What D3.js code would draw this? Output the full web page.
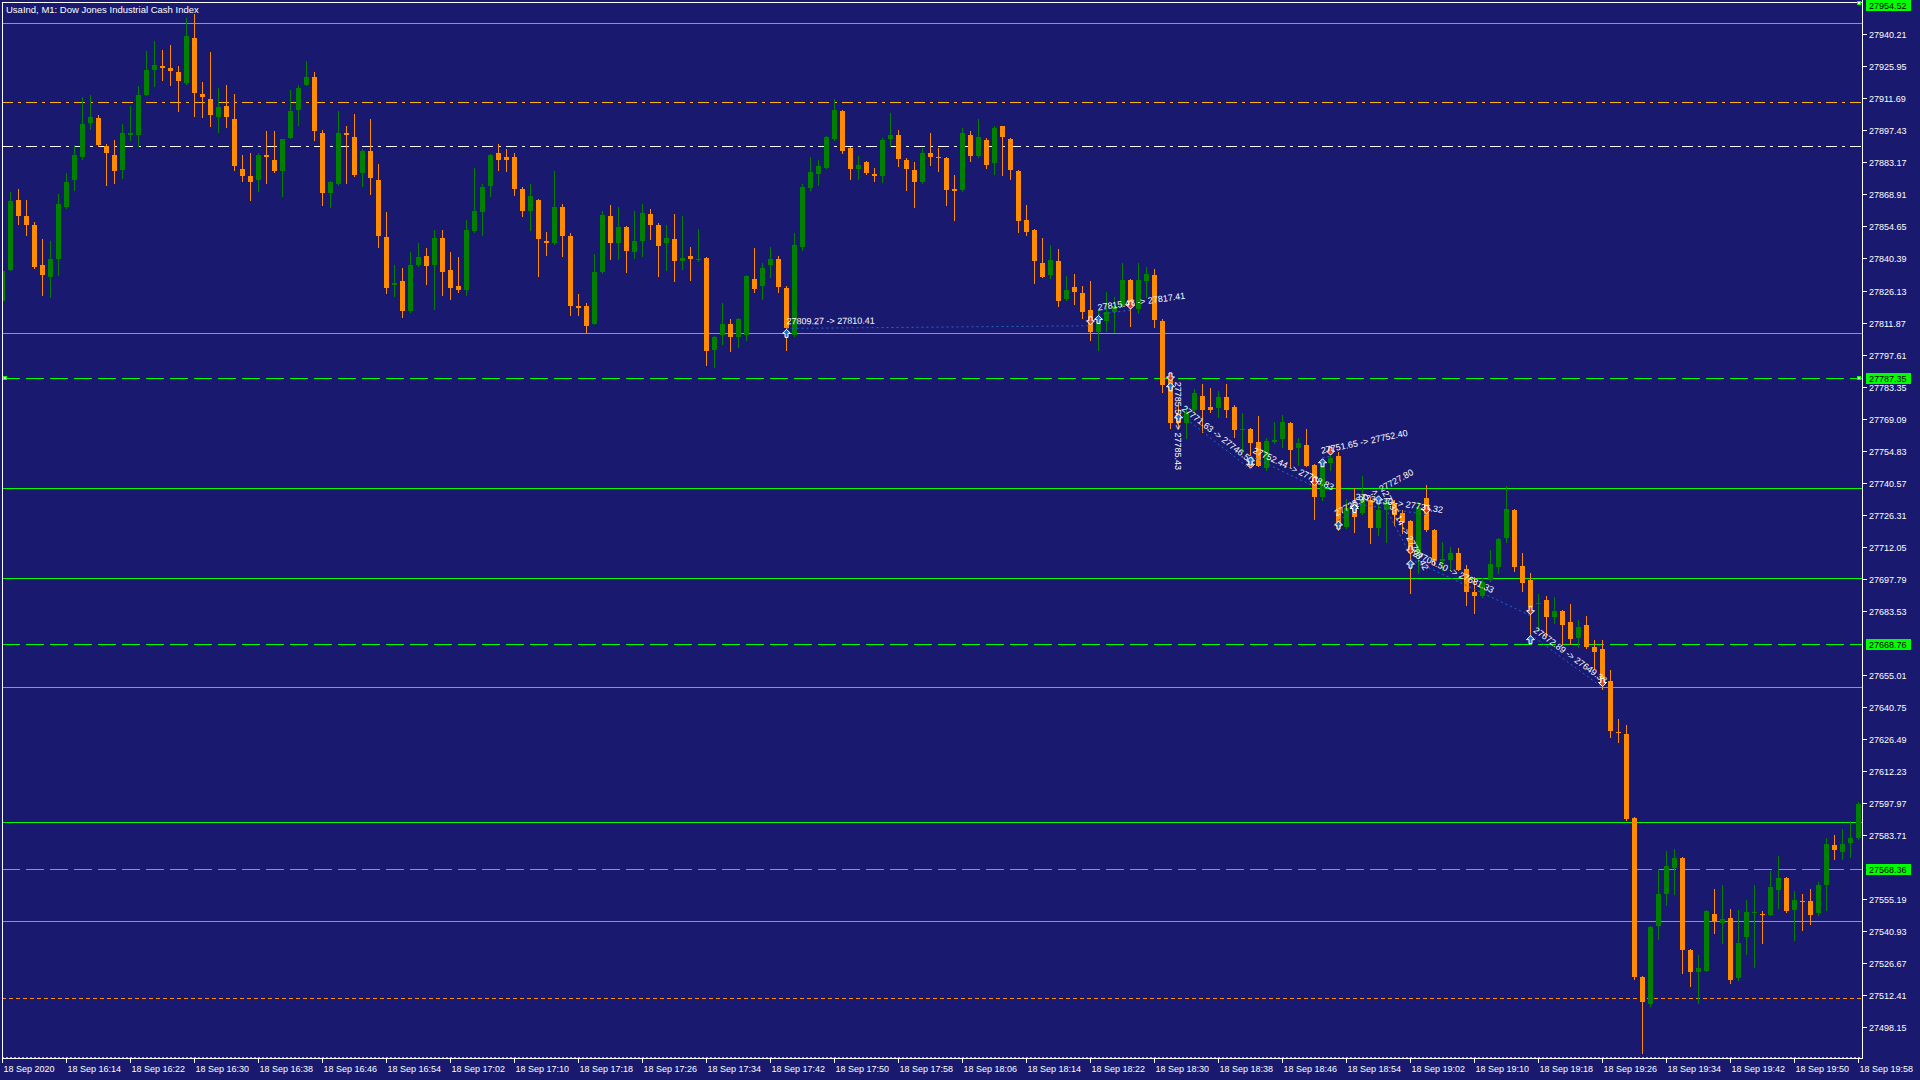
<!DOCTYPE html>
<html><head><meta charset="utf-8">
<script src="https://cdn.jsdelivr.net/npm/d3@7"></script>
<style>
html,body{margin:0;padding:0;background:#191970;overflow:hidden}
svg{display:block}
text{font-family:"Liberation Sans",Arial,sans-serif;}
</style></head><body>
<svg id="c" width="1920" height="1080"></svg>
<script>
const chartTitle = "UsaInd, M1:  Dow Jones Industrial Cash Index";

const open = [27821.3,27835.1,27866.6,27859.4,27855.4,27837.6,27832.0,27840.0,27863.1,27875.2,27885.4,27900.8,27903.1,27890.4,27886.6,27879.9,27895.2,27895.2,27913.3,27924.1,27926.2,27925.3,27923.5,27918.4,27938.7,27913.6,27911.5,27903.2,27908.4,27902.6,27880.4,27877.2,27875.2,27886.3,27884.4,27879.2,27894.0,27906.3,27917.8,27921.3,27896.4,27869.4,27873.7,27896.4,27894.6,27878.3,27888.4,27875.3,27850.1,27828.4,27830.5,27816.8,27837.3,27841.6,27837.3,27849.6,27835.4,27828.3,27826.2,27852.5,27860.9,27872.5,27887.5,27885.7,27885.7,27871.5,27861.4,27866.6,27848.3,27847.1,27863.3,27850.5,27819.4,27819.4,27811.2,27834.2,27859.3,27847.1,27854.4,27843.1,27848.0,27860.3,27855.4,27847.1,27849.2,27839.1,27841.6,27840.0,27840.7,27799.5,27806.1,27811.3,27805.3,27806.1,27831.2,27828.0,27837.3,27840.1,27827.4,27806.1,27845.3,27871.7,27878.1,27880.9,27893.7,27906.2,27889.7,27880.2,27883.5,27878.1,27877.0,27893.7,27895.5,27884.4,27879.9,27874.3,27887.5,27885.7,27885.3,27871.5,27871.0,27895.5,27885.8,27893.3,27883.0,27899.4,27893.7,27879.5,27857.6,27853.2,27838.4,27833.2,27839.4,27822.3,27827.5,27824.9,27817.6,27807.5,27812.4,27816.4,27819.1,27830.6,27818.0,27830.2,27832.9,27812.6,27787.8,27771.5,27767.0,27772.9,27779.2,27774.4,27774.0,27778.6,27774.1,27764.2,27764.5,27758.5,27747.3,27758.8,27760.0,27767.0,27756.2,27757.4,27748.4,27734.4,27749.5,27752.5,27721.0,27730.6,27726.9,27732.9,27720.3,27728.4,27731.4,27726.9,27723.5,27709.1,27733.6,27719.5,27705.7,27706.2,27709.1,27702.0,27692.1,27690.3,27697.2,27702.9,27716.1,27728.3,27703.4,27697.2,27686.4,27688.3,27680.7,27683.4,27678.4,27671.4,27677.2,27667.5,27666.5,27652.2,27629.5,27628.7,27591.4,27520.6,27508.4,27543.0,27557.3,27569.2,27573.6,27532.7,27522.9,27523.3,27548.5,27544.4,27546.8,27519.9,27538.4,27549.1,27548.5,27548.2,27559.4,27564.6,27550.5,27554.3,27554.3,27549.1,27561.2,27579.3,27576.3,27580.3,27582.4];
const high = [27835.0,27869.8,27871.4,27866.6,27856.5,27849.2,27848.3,27869.2,27878.6,27890.8,27912.3,27913.2,27904.2,27891.3,27893.3,27900.2,27908.4,27917.3,27932.6,27937.3,27933.3,27935.6,27926.2,27947.6,27949.4,27919.1,27932.4,27916.4,27917.8,27913.7,27886.6,27887.3,27887.3,27897.3,27897.3,27893.8,27915.5,27917.8,27928.4,27923.5,27897.4,27875.0,27906.2,27899.5,27904.7,27889.0,27902.6,27882.6,27860.9,27837.3,27836.1,27843.4,27847.4,27845.0,27853.2,27853.2,27843.4,27840.9,27857.6,27880.8,27873.7,27887.0,27891.3,27889.0,27887.5,27872.0,27873.7,27867.0,27852.3,27879.5,27864.5,27851.7,27824.7,27820.5,27842.5,27861.7,27864.3,27863.3,27855.0,27861.7,27864.8,27862.5,27856.0,27855.4,27860.3,27859.4,27845.6,27853.6,27841.0,27806.0,27820.7,27813.6,27814.0,27833.0,27845.2,27838.4,27845.6,27841.6,27828.3,27851.7,27873.7,27885.6,27884.4,27895.0,27911.4,27906.5,27890.0,27886.1,27884.0,27880.9,27894.0,27905.1,27897.7,27885.3,27883.3,27889.7,27896.2,27889.7,27885.5,27877.7,27898.5,27897.0,27902.6,27894.0,27899.5,27899.5,27894.0,27880.0,27864.3,27853.5,27849.5,27846.5,27844.7,27832.4,27833.6,27828.0,27830.5,27817.6,27825.4,27823.2,27838.4,27831.4,27838.4,27836.4,27835.8,27813.3,27788.5,27775.2,27775.2,27782.1,27784.4,27782.6,27781.4,27784.4,27775.2,27771.5,27765.0,27770.4,27760.5,27767.7,27770.7,27767.5,27760.3,27764.3,27749.0,27750.7,27753.7,27754.4,27733.2,27738.1,27743.5,27734.4,27734.4,27733.6,27732.9,27728.4,27724.0,27732.1,27739.6,27720.0,27714.3,27712.1,27711.3,27703.9,27698.7,27698.3,27710.6,27716.1,27739.0,27729.0,27709.2,27700.2,27691.1,27690.3,27689.5,27684.0,27686.5,27679.4,27681.1,27670.5,27670.5,27657.2,27635.4,27632.7,27591.5,27521.0,27543.0,27568.4,27576.7,27577.6,27574.0,27533.0,27530.3,27550.3,27559.7,27561.5,27550.8,27550.3,27554.8,27561.5,27549.9,27567.7,27574.4,27565.0,27558.8,27557.4,27559.7,27562.8,27582.4,27583.7,27586.4,27589.8,27598.3];
const low = [27820.0,27835.1,27855.9,27851.0,27836.1,27824.0,27823.1,27833.2,27863.0,27871.0,27884.8,27897.9,27890.5,27872.9,27873.8,27876.2,27893.3,27890.3,27913.0,27917.0,27920.0,27917.8,27905.9,27918.0,27904.0,27903.2,27899.2,27896.5,27898.9,27879.9,27875.0,27866.3,27870.3,27874.0,27879.0,27868.0,27894.0,27900.0,27917.5,27893.0,27864.0,27863.1,27872.9,27873.8,27877.2,27872.5,27868.9,27845.5,27824.9,27823.5,27814.2,27816.4,27837.0,27829.2,27818.0,27824.0,27822.2,27825.3,27824.0,27852.0,27851.0,27868.0,27879.9,27879.2,27868.5,27859.1,27853.2,27832.4,27842.1,27847.0,27841.3,27815.1,27815.1,27807.5,27811.0,27834.0,27840.0,27840.0,27834.2,27840.4,27841.3,27849.2,27832.7,27835.1,27830.2,27835.7,27830.9,27839.1,27793.1,27791.9,27802.3,27799.0,27801.0,27803.9,27825.3,27822.3,27832.0,27825.3,27799.8,27806.0,27844.0,27871.0,27873.1,27880.5,27893.0,27887.2,27875.9,27875.9,27878.0,27875.0,27874.3,27890.3,27881.4,27871.0,27863.1,27874.0,27881.8,27879.2,27864.0,27857.4,27870.5,27883.9,27885.5,27880.9,27878.1,27877.7,27875.9,27852.0,27851.0,27829.3,27832.0,27831.5,27819.4,27822.0,27820.2,27813.9,27803.9,27799.8,27808.2,27807.5,27819.0,27810.2,27816.1,27823.4,27810.0,27781.1,27764.8,27764.8,27760.3,27772.0,27763.3,27772.2,27770.0,27770.0,27761.1,27754.4,27752.9,27748.0,27746.2,27758.1,27756.6,27747.7,27748.4,27748.0,27724.3,27732.9,27746.2,27719.5,27720.5,27718.8,27726.5,27713.6,27717.3,27714.3,27721.7,27718.0,27691.3,27700.2,27719.0,27703.9,27701.7,27701.7,27701.5,27686.1,27682.4,27689.8,27697.0,27700.2,27714.0,27701.3,27692.2,27672.4,27675.6,27672.4,27678.3,27668.4,27668.7,27667.2,27667.0,27658.1,27648.9,27627.5,27625.2,27590.3,27519.7,27486.6,27507.6,27537.4,27552.5,27557.3,27522.4,27516.5,27509.1,27523.0,27540.2,27535.5,27518.0,27519.2,27530.9,27525.1,27535.5,27548.0,27551.4,27549.5,27537.1,27541.6,27544.2,27548.2,27550.5,27573.2,27573.2,27574.1,27581.9];
const close = [27834.6,27865.8,27859.1,27855.1,27836.4,27832.9,27840.3,27864.8,27874.6,27886.6,27900.4,27903.5,27890.9,27887.2,27879.2,27896.2,27896.4,27913.3,27924.4,27926.7,27925.0,27924.0,27919.2,27939.6,27913.9,27912.1,27904.1,27907.7,27903.2,27881.4,27877.0,27874.3,27886.6,27885.6,27879.2,27893.6,27906.2,27916.4,27921.3,27897.0,27869.4,27874.4,27896.2,27895.2,27877.7,27888.4,27876.1,27850.2,27827.1,27829.6,27816.8,27837.6,27840.9,27836.9,27849.6,27834.2,27827.1,27826.2,27853.2,27861.7,27872.3,27886.6,27884.1,27884.1,27871.2,27861.4,27868.3,27848.9,27847.1,27863.3,27850.2,27819.1,27818.2,27810.2,27834.3,27859.9,27847.1,27854.4,27843.5,27848.3,27860.6,27855.1,27846.1,27849.5,27839.1,27840.7,27840.0,27840.3,27799.0,27805.4,27811.3,27805.3,27813.4,27832.7,27826.9,27836.1,27840.1,27827.7,27809.4,27846.5,27872.2,27878.7,27881.4,27894.6,27906.6,27888.4,27880.4,27882.1,27878.3,27877.2,27893.3,27895.5,27884.8,27880.4,27874.3,27887.5,27885.4,27885.4,27871.0,27870.3,27896.2,27885.8,27894.6,27882.1,27898.6,27894.3,27879.9,27856.9,27852.0,27839.1,27832.3,27839.9,27821.3,27826.5,27825.3,27816.4,27807.5,27812.4,27816.4,27819.1,27830.6,27819.8,27830.6,27833.6,27813.0,27784.1,27767.0,27767.0,27772.2,27780.4,27772.9,27772.9,27778.6,27772.9,27764.0,27764.5,27758.1,27748.2,27759.1,27759.6,27767.4,27755.1,27758.1,27748.2,27734.4,27748.0,27751.4,27721.0,27729.2,27725.5,27733.2,27720.3,27728.4,27732.1,27726.2,27723.2,27709.1,27729.9,27719.5,27706.2,27706.4,27709.1,27701.7,27692.1,27690.3,27696.5,27704.2,27715.6,27728.8,27702.9,27695.9,27685.1,27687.2,27680.7,27683.4,27677.3,27671.0,27676.2,27667.2,27665.1,27651.8,27630.0,27629.2,27590.6,27520.3,27509.3,27542.8,27557.6,27570.0,27573.6,27532.4,27522.7,27524.5,27549.9,27545.4,27546.3,27519.2,27535.6,27549.4,27549.4,27548.2,27560.6,27564.6,27550.0,27554.8,27553.9,27548.2,27561.5,27579.7,27577.2,27579.7,27582.4,27597.5];

const timeLabels = ["18 Sep 2020","18 Sep 16:14","18 Sep 16:22","18 Sep 16:30","18 Sep 16:38","18 Sep 16:46","18 Sep 16:54","18 Sep 17:02","18 Sep 17:10","18 Sep 17:18","18 Sep 17:26","18 Sep 17:34","18 Sep 17:42","18 Sep 17:50","18 Sep 17:58","18 Sep 18:06","18 Sep 18:14","18 Sep 18:22","18 Sep 18:30","18 Sep 18:38","18 Sep 18:46","18 Sep 18:54","18 Sep 19:02","18 Sep 19:10","18 Sep 19:18","18 Sep 19:26","18 Sep 19:34","18 Sep 19:42","18 Sep 19:50","18 Sep 19:58"];
const timeLabelIndex = [0,8,16,24,32,40,48,56,64,72,80,88,96,104,112,120,128,136,144,152,160,168,176,184,192,200,208,216,224,232];

const priceTicks = [27940.21,27925.95,27911.69,27897.43,27883.17,27868.91,27854.65,27840.39,27826.13,27811.87,27797.61,27783.35,27769.09,27754.83,27740.57,27726.31,27712.05,27697.79,27683.53,27655.01,27640.75,27626.49,27612.23,27597.97,27583.71,27555.19,27540.93,27526.67,27512.41,27498.15];
const markedPrices = [27954.52,27787.35,27668.76,27568.36];

const levelPrices = [27945.2,27910.25,27890.5,27807.1,27787.35,27738.1,27697.9,27668.76,27649.7,27589.5,27568.36,27545.3,27511.0,27484.8];
const levelKinds  = ["solid","dashdotGold","dashdotWhite","solid","dashed","solid","solid","dashed","solid","solid","dashed","solid","dashOrange","dotCyan"];

const tradeEntryIdx   = [98,137,146,147,156,165,167,169,172,176,191];
const tradeEntryPrice = [27809.27,27815.48,27785.50,27771.63,27752.44,27751.65,27723.90,27731.30,27735.14,27706.50,27672.89];
const tradeExitIdx    = [136,141,146,156,164,166,169,178,176,191,200];
const tradeExitPrice  = [27810.41,27817.41,27785.43,27746.58,27738.83,27752.40,27727.80,27726.32,27708.42,27681.33,27649.38];

// ---------------- drawing ----------------
const svg = d3.select("#c");
const L = 2, R = 1862, T = 2, B = 1058;
const n = open.length;
const x = d3.scaleLinear().domain([0, n - 1]).range([2.3, 1858.3]);
const y = d3.scaleLinear().domain([27498.15, 27940.21]).range([1027.1, 34.3]);

svg.append("rect").attr("width",1920).attr("height",1080).attr("fill","#191970");

const defs = svg.append("defs");
defs.append("clipPath").attr("id","plot").append("rect")
  .attr("x",L).attr("y",T).attr("width",R-L).attr("height",B-T);

const plot = svg.append("g").attr("clip-path","url(#plot)");

const levelStyle = {
  solid:{stroke:"#00ff00",dash:null},
  dashed:{stroke:"#00ff00",dash:"18,6"},
  dashdotGold:{stroke:"#ffb414",dash:"11,5,3,5"},
  dashdotWhite:{stroke:"#ffffff",dash:"11,5,3,5"},
  dashOrange:{stroke:"#ff8c00",dash:"4,3"},
  dotCyan:{stroke:"#3fd8ff",dash:"2,2"}
};
levelPrices.forEach((p,k)=>{
  const st = levelStyle[levelKinds[k]];
  const yy = Math.round(y(p)) + 0.5;
  plot.append("line").attr("x1",L).attr("x2",R).attr("y1",yy).attr("y2",yy)
    .attr("stroke",st.stroke).attr("stroke-width",1)
    .attr("stroke-dasharray",st.dash).attr("shape-rendering","crispEdges");
});

// candles
const bull = "#008000", bear = "#ff8c00";
const cg = plot.append("g").attr("shape-rendering","crispEdges");
d3.range(n).forEach(i=>{
  const cx = Math.round(x(i));
  const col = close[i] >= open[i] ? bull : bear;
  const yH = Math.round(y(high[i])), yL = Math.round(y(low[i]));
  cg.append("rect").attr("x",cx).attr("y",yH).attr("width",1).attr("height",Math.max(1,yL-yH+1)).attr("fill",col);
  const yT = Math.round(y(Math.max(open[i],close[i])));
  const yB = Math.round(y(Math.min(open[i],close[i])));
  cg.append("rect").attr("x",cx-2).attr("y",yT).attr("width",5).attr("height",Math.max(1,yB-yT)).attr("fill",col);
});

// trades
const tg = plot.append("g");
function arrowPath(up){
  return up ? "M0,-4L4,0L1.5,0L1.5,4L-1.5,4L-1.5,0L-4,0Z"
            : "M0,4L4,0L1.5,0L1.5,-4L-1.5,-4L-1.5,0L-4,0Z";
}
tradeEntryIdx.forEach((ei,k)=>{
  const x1 = Math.round(x(ei))+0.5, y1 = y(tradeEntryPrice[k]);
  const x2 = Math.round(x(tradeExitIdx[k]))+0.5, y2 = y(tradeExitPrice[k]);
  tg.append("line").attr("x1",x1).attr("y1",y1).attr("x2",x2).attr("y2",y2)
    .attr("stroke","#1e6ad0").attr("stroke-width",1).attr("stroke-dasharray","2,3");
  const ang = Math.atan2(y2-y1, x2-x1)*180/Math.PI;
  tg.append("text").attr("transform",`translate(${x1},${y1}) rotate(${ang})`)
    .attr("x",0).attr("y",-4).attr("fill","#ffffff").attr("font-size","9px")
    .text(`${tradeEntryPrice[k].toFixed(2)} -> ${tradeExitPrice[k].toFixed(2)}`);
  tg.append("path").attr("d",arrowPath(true)).attr("transform",`translate(${x1},${y1+5})`)
    .attr("fill","#1f6fc0").attr("stroke","#ffffff").attr("stroke-width",1);
  tg.append("path").attr("d",arrowPath(false)).attr("transform",`translate(${x2},${y2-5})`)
    .attr("fill","#e2401c").attr("stroke","#ffffff").attr("stroke-width",1);
});

// frame
const fr = svg.append("g").attr("stroke","#ffffff").attr("stroke-width",1).attr("shape-rendering","crispEdges");
fr.append("line").attr("x1",L).attr("x2",R).attr("y1",T+0.5).attr("y2",T+0.5);
fr.append("line").attr("x1",L+0.5).attr("x2",L+0.5).attr("y1",T).attr("y2",B);
fr.append("line").attr("x1",R+0.5).attr("x2",R+0.5).attr("y1",0).attr("y2",B+1);
fr.append("line").attr("x1",L).attr("x2",R+1).attr("y1",B+0.5).attr("y2",B+0.5);

// y axis ticks/labels
const ya = svg.append("g");
priceTicks.forEach(p=>{
  const yy = Math.round(y(p))+0.5;
  ya.append("line").attr("x1",R).attr("x2",R+5).attr("y1",yy).attr("y2",yy)
    .attr("stroke","#fff").attr("shape-rendering","crispEdges");
  ya.append("text").attr("x",R+7).attr("y",yy+3.5).attr("fill","#fff")
    .attr("font-size","9px").text(p.toFixed(2));
});
markedPrices.forEach((p,k)=>{
  const yy = Math.max(5, Math.round(y(p)));
  ya.append("rect").attr("x",R+4).attr("y",yy-5).attr("width",45).attr("height",11)
    .attr("fill","#00ff00").attr("shape-rendering","crispEdges");
  ya.append("text").attr("x",R+7).attr("y",yy+4).attr("fill","#000")
    .attr("font-size","9px").text(p.toFixed(2));
});
// line end markers
[[R-5, Math.round(y(markedPrices[0]))-1],[R-5, Math.round(y(markedPrices[1]))-2],[L+1, Math.round(y(markedPrices[1]))-2]].forEach(m=>{
  svg.append("rect").attr("x",m[0]+0.5).attr("y",m[1]+0.5).attr("width",3).attr("height",3)
    .attr("fill","#ffffff").attr("stroke","#00ff00").attr("shape-rendering","crispEdges");
});

// x axis
const xa = svg.append("g");
timeLabelIndex.forEach((ti,k)=>{
  const xx = Math.round(x(ti))+0.5;
  xa.append("line").attr("x1",xx).attr("x2",xx).attr("y1",B).attr("y2",B+5)
    .attr("stroke","#fff").attr("shape-rendering","crispEdges");
  xa.append("text").attr("x",xx+1).attr("y",B+14).attr("fill","#fff")
    .attr("font-size","9px").text(timeLabels[k]);
});

// title
svg.append("text").attr("x",6).attr("y",13).attr("fill","#fff").attr("font-size","9.5px").text(chartTitle);
</script>
</body></html>
